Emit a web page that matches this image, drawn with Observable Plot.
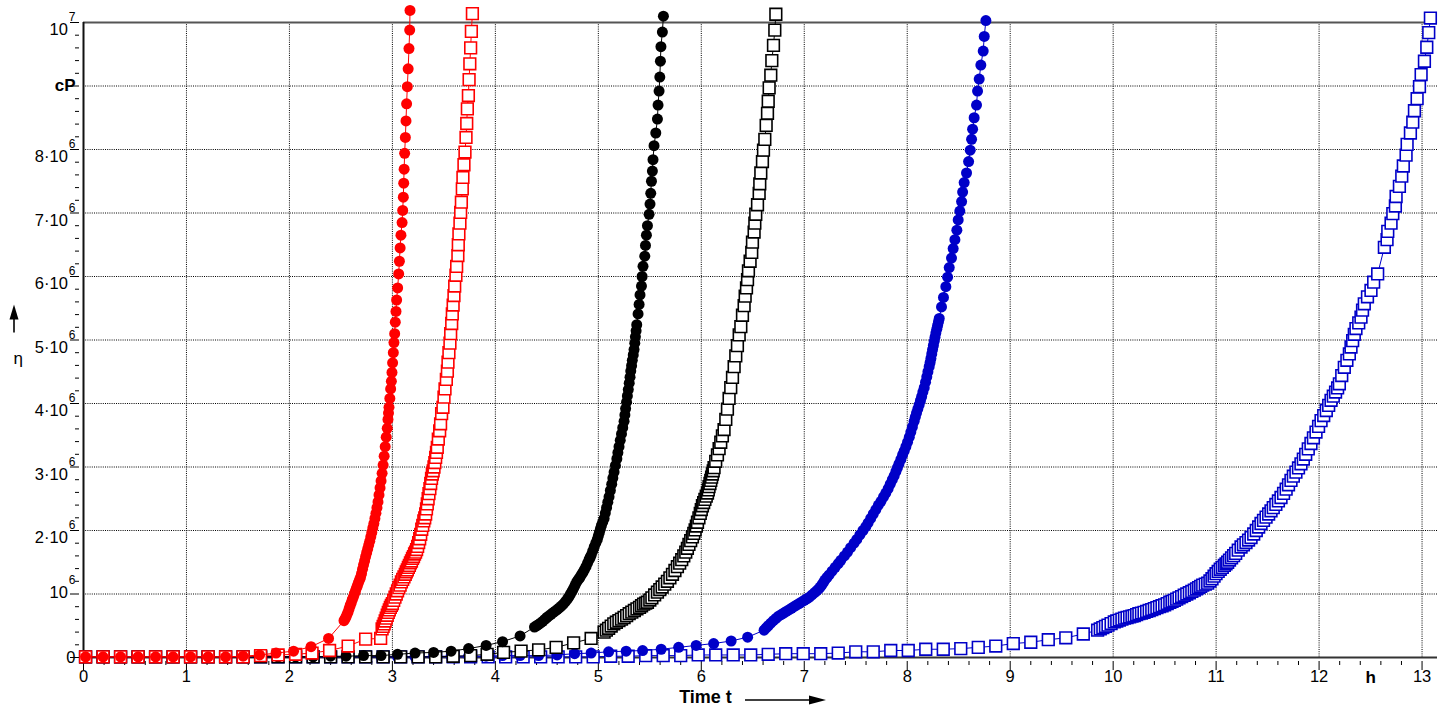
<!DOCTYPE html>
<html><head><meta charset="utf-8">
<script src="https://cdn.jsdelivr.net/npm/d3@7"></script>
<script src="https://cdn.jsdelivr.net/npm/@observablehq/plot@0.6"></script>
<style>
html,body{margin:0;padding:0;background:#fff;}
#chart{width:1447px;height:713px;}
</style></head><body><div id="chart"></div>
<script>
// [time t in h, viscosity η in units of 10^6 cP]
const redCircles = [
[0.02,0.01],[0.19,0.01],[0.36,0.01],[0.53,0.01],[0.70,0.01],[0.87,0.01],[1.04,0.01],[1.21,0.01],[1.38,0.01],[1.55,0.02],[1.71,0.04],[1.87,0.07],[2.04,0.10],[2.21,0.17],[2.38,0.30],
[2.53,0.58],[2.54,0.61],[2.55,0.64],[2.56,0.68],[2.57,0.72],[2.58,0.77],[2.59,0.82],[2.60,0.86],[2.61,0.91],[2.62,0.95],[2.63,1.00],[2.64,1.04],[2.65,1.09],[2.66,1.13],[2.67,1.18],[2.68,1.22],[2.69,1.26],[2.70,1.32],[2.71,1.39],[2.72,1.46],[2.73,1.52],[2.74,1.59],[2.75,1.65],[2.76,1.71],[2.77,1.77],[2.78,1.83],[2.79,1.90],[2.80,1.97],[2.81,2.04],[2.82,2.11],[2.83,2.19],[2.84,2.27],[2.85,2.36],[2.86,2.45],[2.87,2.56],[2.88,2.67],[2.89,2.78],[2.90,2.90],[2.91,3.03],[2.92,3.17],[2.93,3.32],[2.94,3.47],[2.95,3.61],
[2.957,3.75],[2.962,3.85],[2.967,3.94],[2.975,4.08],[2.983,4.23],[2.99,4.35],[2.996,4.49],[3.002,4.64],[3.009,4.80],[3.015,4.96],[3.022,5.10],[3.028,5.28],[3.035,5.45],[3.041,5.63],[3.051,5.82],[3.061,6.04],[3.068,6.24],[3.075,6.45],[3.083,6.65],[3.094,6.85],[3.100,7.04],[3.106,7.25],[3.110,7.47],[3.114,7.69],[3.119,7.94],[3.126,8.19],[3.132,8.45],[3.138,8.72],[3.145,8.99],[3.153,9.27],[3.161,9.59],[3.168,9.88],[3.171,10.19]
];
const redSquares = [
[0.02,0.01],[0.19,0.01],[0.36,0.01],[0.53,0.01],[0.70,0.01],[0.87,0.01],[1.04,0.01],[1.21,0.01],[1.38,0.01],[1.55,0.01],[1.72,0.03],[1.89,0.04],[2.06,0.05],[2.22,0.07],[2.39,0.11],[2.57,0.18],[2.74,0.29],[2.886,0.30],
[2.90,0.45],[2.91,0.49],[2.92,0.53],[2.93,0.575],[2.94,0.62],[2.95,0.665],[2.96,0.71],[2.97,0.75],[2.98,0.79],[2.99,0.82],[3.00,0.85],[3.0125,0.90],[3.025,0.95],[3.0375,1.00],[3.05,1.05],[3.0625,1.10],[3.075,1.14],[3.0875,1.19],[3.10,1.23],[3.1125,1.27],[3.125,1.31],[3.135,1.35],[3.145,1.38],[3.155,1.42],[3.165,1.45],[3.175,1.49],[3.185,1.52],[3.195,1.56],[3.205,1.59],[3.215,1.63],[3.225,1.66],[3.235,1.70],[3.245,1.75],[3.255,1.81],[3.265,1.87],[3.275,1.94],[3.285,2.02],[3.295,2.08],[3.305,2.15],[3.314,2.20],[3.323,2.26],[3.331,2.34],[3.339,2.42],[3.347,2.50],[3.355,2.58],[3.364,2.66],[3.372,2.74],[3.38,2.82],[3.388,2.89],[3.396,2.94],[3.404,3.00],[3.412,3.07],[3.42,3.15],[3.428,3.23],[3.436,3.31],
[3.446,3.44],[3.459,3.57],[3.468,3.68],[3.478,3.84],[3.491,3.94],[3.501,4.10],[3.511,4.23],[3.524,4.38],[3.534,4.51],[3.540,4.65],[3.549,4.80],[3.559,4.95],[3.566,5.10],[3.576,5.26],[3.582,5.41],[3.590,5.55],[3.598,5.70],[3.605,5.85],[3.617,6.02],[3.624,6.16],[3.636,6.33],[3.640,6.50],[3.646,6.67],[3.656,6.84],[3.663,7.01],[3.670,7.17],[3.679,7.38],[3.685,7.56],[3.695,7.76],[3.705,7.96],[3.715,8.19],[3.722,8.41],[3.728,8.64],[3.738,8.85],[3.745,9.10],[3.752,9.35],[3.760,9.60],[3.767,9.86],[3.777,10.14]
];
const blackCircles = [
[0.02,0.01],[0.19,0.01],[0.36,0.01],[0.53,0.01],[0.70,0.01],[0.87,0.01],[1.04,0.01],[1.21,0.01],[1.38,0.01],[1.55,0.01],[1.72,0.01],[1.89,0.01],[2.06,0.01],[2.23,0.01],[2.40,0.02],[2.55,0.02],[2.72,0.03],[2.89,0.03],[3.05,0.05],[3.22,0.07],[3.40,0.08],[3.57,0.10],[3.74,0.14],[3.91,0.19],[4.07,0.25],[4.24,0.34],
[4.38,0.48],[4.40,0.50],[4.42,0.52],[4.44,0.545],[4.46,0.57],[4.48,0.60],[4.50,0.63],[4.52,0.655],[4.54,0.68],[4.56,0.705],[4.58,0.73],[4.60,0.755],[4.62,0.78],[4.64,0.81],[4.66,0.84],[4.68,0.88],[4.70,0.92],[4.715,0.96],[4.73,1.00],[4.745,1.045],[4.76,1.09],[4.775,1.14],[4.79,1.19],[4.805,1.225],[4.82,1.26],[4.835,1.30],[4.85,1.34],[4.865,1.385],[4.88,1.43],[4.895,1.485],[4.91,1.54],[4.92,1.575],[4.93,1.61],[4.945,1.675],[4.96,1.74],[4.975,1.80],[4.99,1.86],[5.00,1.915],[5.01,1.97],[5.02,2.025],[5.03,2.08],[5.043,2.135],[5.056,2.19],[5.068,2.275],[5.08,2.36],[5.092,2.445],[5.104,2.53],[5.117,2.63],[5.13,2.73],[5.141,2.825],[5.153,2.92],[5.166,3.025],[5.18,3.13],[5.19,3.225],[5.201,3.32],[5.213,3.42],[5.225,3.52],[5.237,3.62],[5.25,3.72],[5.258,3.82],[5.265,3.92],[5.274,4.02],[5.282,4.12],[5.291,4.22],[5.30,4.32],[5.308,4.415],[5.315,4.51],[5.323,4.595],[5.33,4.68],[5.339,4.765],[5.347,4.85],[5.354,4.95],[5.36,5.05],[5.367,5.145],[5.373,5.24],
[5.386,5.41],[5.396,5.56],[5.405,5.71],[5.419,5.85],[5.425,6.00],[5.434,6.16],[5.451,6.32],[5.458,6.49],[5.467,6.65],[5.477,6.80],[5.493,6.98],[5.502,7.14],[5.509,7.31],[5.516,7.50],[5.525,7.66],[5.531,7.84],[5.541,8.06],[5.558,8.26],[5.574,8.48],[5.580,8.70],[5.590,8.92],[5.597,9.14],[5.603,9.39],[5.608,9.62],[5.622,9.85],[5.632,10.10]
];
const blackSquares = [
[0.02,0.01],[0.19,0.01],[0.36,0.01],[0.53,0.01],[0.70,0.01],[0.87,0.01],[1.04,0.01],[1.21,0.01],[1.38,0.01],[1.55,0.01],[1.72,0.01],[1.89,0.01],[2.06,0.01],[2.23,0.01],[2.40,0.01],[2.57,0.01],[2.74,0.01],[2.91,0.01],[3.08,0.01],[3.25,0.01],[3.42,0.01],[3.59,0.02],[3.76,0.03],[3.92,0.05],[4.08,0.08],[4.25,0.10],[4.42,0.12],[4.59,0.16],[4.76,0.23],[4.93,0.30],
[5.056,0.40],[5.078,0.43],[5.10,0.46],[5.125,0.495],[5.15,0.53],[5.175,0.555],[5.20,0.58],[5.225,0.605],[5.25,0.63],[5.275,0.66],[5.30,0.69],[5.325,0.715],[5.35,0.74],[5.375,0.765],[5.40,0.79],[5.42,0.815],[5.44,0.84],[5.46,0.855],[5.477,0.87],[5.50,0.905],[5.52,0.94],[5.547,0.985],[5.574,1.03],[5.597,1.07],[5.62,1.11],[5.645,1.155],[5.671,1.20],[5.695,1.255],[5.72,1.31],[5.744,1.37],[5.768,1.43],[5.79,1.485],[5.81,1.54],[5.83,1.60],[5.849,1.66],[5.865,1.72],[5.88,1.78],[5.897,1.84],[5.914,1.90],[5.927,1.955],[5.94,2.01],[5.952,2.07],[5.963,2.13],[5.977,2.20],[5.99,2.27],[6.00,2.33],[6.011,2.39],[6.023,2.44],[6.035,2.49],[6.048,2.54],[6.06,2.59],[6.068,2.64],[6.075,2.69],[6.084,2.74],[6.092,2.79],[6.10,2.84],[6.108,2.89],[6.116,2.94],[6.124,2.99],
[6.14,3.09],[6.157,3.19],[6.173,3.29],[6.189,3.39],[6.205,3.49],[6.221,3.59],[6.238,3.75],[6.254,3.91],[6.27,4.08],[6.286,4.25],[6.303,4.41],[6.319,4.58],[6.335,4.75],[6.351,4.91],[6.368,5.08],[6.384,5.21],[6.40,5.39],[6.416,5.54],[6.426,5.69],[6.439,5.82],[6.449,5.95],[6.458,6.09],[6.474,6.24],[6.49,6.38],[6.497,6.54],[6.513,6.70],[6.52,6.84],[6.529,6.98],[6.546,7.13],[6.562,7.31],[6.568,7.46],[6.578,7.63],[6.594,7.81],[6.604,7.99],[6.617,8.16],[6.63,8.38],[6.643,8.57],[6.650,8.76],[6.659,8.97],[6.675,9.17],[6.685,9.40],[6.701,9.64],[6.714,9.88],[6.724,10.13]
];
const blueCircles = [
[0.02,0.01],[0.19,0.01],[0.36,0.01],[0.53,0.01],[0.70,0.01],[0.87,0.01],[1.04,0.01],[1.21,0.01],[1.38,0.01],[1.55,0.01],[1.72,0.01],[1.89,0.01],[2.06,0.01],[2.23,0.01],[2.40,0.01],[2.57,0.01],[2.74,0.01],[2.89,0.01],[3.05,0.01],[3.22,0.01],[3.40,0.02],[3.57,0.02],[3.74,0.02],[3.91,0.02],[4.07,0.03],[4.24,0.03],[4.42,0.03],[4.60,0.04],[4.77,0.06],[4.93,0.07],[5.10,0.09],[5.27,0.10],[5.43,0.11],[5.61,0.13],[5.78,0.16],[5.95,0.19],[6.12,0.22],[6.29,0.26],[6.45,0.32],
[6.61,0.43],[6.63,0.465],[6.65,0.50],[6.675,0.54],[6.70,0.58],[6.725,0.615],[6.75,0.65],[6.775,0.675],[6.80,0.70],[6.825,0.725],[6.85,0.75],[6.875,0.775],[6.90,0.80],[6.925,0.825],[6.95,0.85],[6.975,0.875],[7.00,0.90],[7.025,0.925],[7.05,0.95],[7.075,0.985],[7.10,1.02],[7.12,1.05],[7.14,1.08],[7.155,1.11],[7.17,1.14],[7.185,1.18],[7.20,1.22],[7.22,1.26],[7.241,1.30],[7.27,1.36],[7.30,1.42],[7.33,1.48],[7.355,1.53],[7.39,1.60],[7.42,1.66],[7.45,1.73],[7.484,1.80],[7.51,1.86],[7.54,1.93],[7.57,2.00],[7.598,2.06],[7.62,2.12],[7.645,2.19],[7.67,2.26],[7.695,2.33],[7.72,2.40],[7.745,2.46],[7.77,2.53],[7.792,2.59],[7.815,2.66],[7.835,2.73],[7.855,2.80],[7.873,2.86],[7.89,2.93],[7.905,2.99],[7.92,3.05],[7.938,3.12],[7.955,3.19],[7.97,3.25],[7.987,3.32],[8.003,3.39],[8.02,3.47],[8.035,3.55],[8.05,3.63],[8.067,3.72],[8.078,3.785],[8.09,3.85],[8.103,3.915],[8.116,3.98],[8.128,4.045],[8.14,4.11],[8.152,4.18],[8.165,4.25],[8.178,4.335],[8.19,4.42],[8.201,4.50],[8.213,4.58],[8.222,4.645],[8.23,4.71],[8.238,4.78],[8.246,4.85],[8.254,4.915],[8.262,4.98],[8.27,5.045],[8.278,5.11],[8.287,5.17],[8.295,5.23],[8.303,5.285],[8.311,5.34],
[8.333,5.52],[8.352,5.67],[8.375,5.84],[8.392,5.99],[8.408,6.14],[8.43,6.29],[8.446,6.44],[8.463,6.58],[8.482,6.73],[8.495,6.89],[8.511,7.03],[8.528,7.18],[8.538,7.33],[8.553,7.48],[8.576,7.63],[8.596,7.81],[8.612,7.99],[8.625,8.16],[8.635,8.32],[8.65,8.50],[8.673,8.70],[8.683,8.92],[8.699,9.11],[8.715,9.33],[8.738,9.55],[8.748,9.78],[8.764,10.03]
];
const blueSquares = [
[0.02,0.01],[0.19,0.01],[0.36,0.01],[0.53,0.01],[0.70,0.01],[0.87,0.01],[1.04,0.01],[1.21,0.01],[1.38,0.01],[1.55,0.01],[1.72,0.01],[1.89,0.01],[2.06,0.01],[2.23,0.01],[2.40,0.01],[2.57,0.01],[2.74,0.01],[2.91,0.01],[3.08,0.01],[3.25,0.01],[3.42,0.01],[3.59,0.01],[3.76,0.01],[3.93,0.01],[4.10,0.01],[4.27,0.01],[4.44,0.01],[4.61,0.01],[4.78,0.01],[4.95,0.01],
[5.12,0.02],[5.29,0.02],[5.46,0.03],[5.63,0.03],[5.80,0.03],[5.97,0.04],[6.14,0.04],[6.31,0.04],[6.48,0.04],[6.65,0.05],[6.82,0.06],[6.99,0.06],[7.16,0.06],[7.33,0.07],[7.50,0.09],[7.67,0.09],[7.84,0.11],[8.01,0.11],[8.18,0.13],[8.35,0.13],[8.52,0.14],[8.69,0.16],[8.86,0.18],[9.03,0.22],[9.20,0.24],[9.37,0.28],[9.54,0.31],[9.71,0.37],
[9.849,0.43],[9.875,0.45],[9.90,0.47],[9.925,0.49],[9.95,0.51],[9.98,0.535],[10.011,0.56],[10.035,0.575],[10.06,0.59],[10.085,0.605],[10.11,0.62],[10.135,0.63],[10.16,0.64],[10.183,0.65],[10.205,0.66],[10.228,0.675],[10.25,0.69],[10.275,0.70],[10.30,0.71],[10.325,0.725],[10.35,0.74],[10.375,0.755],[10.40,0.77],[10.425,0.785],[10.45,0.80],[10.475,0.815],[10.50,0.83],[10.525,0.85],[10.55,0.87],[10.572,0.885],[10.594,0.90],[10.617,0.92],[10.64,0.94],[10.665,0.96],[10.69,0.98],[10.715,1.00],[10.74,1.02],[10.764,1.04],[10.788,1.06],[10.81,1.08],[10.83,1.10],[10.85,1.12],[10.87,1.14],[10.895,1.155],[10.918,1.17],[10.94,1.205],[10.96,1.24],[10.98,1.28],[10.999,1.32],[11.02,1.355],[11.04,1.39],[11.06,1.42],[11.08,1.45],[11.096,1.475],[11.112,1.50],[11.13,1.535],[11.15,1.57],[11.17,1.605],[11.19,1.64],[11.215,1.69],[11.242,1.74],[11.265,1.775],[11.29,1.81],[11.315,1.85],[11.339,1.89],[11.365,1.945],[11.39,2.00],[11.413,2.055],[11.436,2.11],[11.46,2.16],[11.485,2.21],[11.51,2.26],[11.533,2.31],[11.555,2.36],[11.58,2.41],[11.605,2.465],[11.63,2.52],[11.655,2.585],[11.68,2.65],[11.703,2.72],[11.727,2.79],[11.75,2.855],[11.775,2.92],[11.80,2.985],[11.824,3.05],[11.847,3.125],[11.87,3.20],[11.895,3.285],[11.921,3.37],[11.945,3.46],[11.97,3.55],[11.995,3.64],[12.019,3.73],[12.045,3.81],[12.07,3.89],[12.093,3.97],[12.116,4.05],[12.138,4.115],[12.16,4.18],[12.18,4.245],[12.197,4.31],
[12.22,4.44],[12.245,4.57],[12.27,4.68],[12.294,4.78],[12.31,4.89],[12.326,4.99],[12.342,5.09],[12.358,5.18],[12.385,5.27],[12.407,5.36],[12.422,5.47],[12.439,5.57],[12.47,5.68],[12.504,5.78],[12.53,5.91],[12.569,6.04],
[12.634,6.46],[12.66,6.58],[12.667,6.71],[12.699,6.84],[12.716,6.99],[12.741,7.11],[12.748,7.26],[12.78,7.42],[12.803,7.58],[12.818,7.74],[12.845,7.91],[12.855,8.08],[12.887,8.26],[12.91,8.43],[12.926,8.61],[12.952,8.80],[12.975,8.99],[12.991,9.18],[13.023,9.39],[13.046,9.61],[13.065,9.84],[13.081,10.07]
];

const xTicks = [0,1,2,3,4,5,6,7,8,9,10,11,12,13];
const xTickLabels = ["0","1","2","3","4","5","6","7","8","9","10","11","12","13"];
const xUnitPos = 12.5, xUnitLabel = "h";
const yTicks = [0,1,2,3,4,5,6,7,8,9,10];
const yTickLabels = ["0","10^6","2·10^6","3·10^6","4·10^6","5·10^6","6·10^6","7·10^6","8·10^6","cP","10^7"];
const xTitle = "Time t", yTitle = "η";

const RED = "#ff0000", BLACK = "#000000", BLUE = "#0000c8";
const series = [
  {data: blueSquares, color: BLUE, symbol: "square"},
  {data: blueCircles, color: BLUE, symbol: "circle"},
  {data: blackSquares, color: BLACK, symbol: "square"},
  {data: blackCircles, color: BLACK, symbol: "circle"},
  {data: redSquares, color: RED, symbol: "square"},
  {data: redCircles, color: RED, symbol: "circle"}
];

const xMinor = d3.range(0.2, 13.15, 0.2).filter(d => Math.abs(d - Math.round(d)) > 0.01);
const yMinor = d3.range(0.2, 10, 0.2).filter(d => Math.abs(d - Math.round(d)) > 0.01);
const xLabelTicks = xTicks.concat([xUnitPos]);

const dataMarks = [];
for (const s of series) {
  dataMarks.push(Plot.line(s.data, {x: d => d[0], y: d => d[1], stroke: s.color, strokeWidth: 1}));
  if (s.symbol === "circle") {
    dataMarks.push(Plot.dot(s.data, {x: d => d[0], y: d => d[1], symbol: "circle", r: 5.5, fill: s.color, stroke: "none"}));
  } else {
    dataMarks.push(Plot.dot(s.data, {x: d => d[0], y: d => d[1], symbol: "square", r: 6.6, fill: "white", stroke: s.color, strokeWidth: 1.6}));
  }
}

const svg = Plot.plot({
  width: 1447, height: 713,
  marginLeft: 83, marginRight: 10, marginTop: 22, marginBottom: 56,
  style: {fontFamily: "'Liberation Sans', Arial, sans-serif", fontSize: "16px", color: "#000", background: "#fff"},
  x: {domain: [0, 13.15]},
  y: {domain: [0, 10]},
  marks: [
    Plot.ruleX(xTicks.filter(d => d > 0), {stroke: "#000", strokeWidth: 1, strokeDasharray: "1,1.2"}),
    Plot.ruleY(yTicks.filter(d => d > 0 && d < 10), {stroke: "#000", strokeWidth: 1, strokeDasharray: "1,1.2"}),
    Plot.ruleY([10], {stroke: "#555", strokeWidth: 2}),
    Plot.ruleX([0], {stroke: "#111", strokeWidth: 2}),
    Plot.ruleY([0], {stroke: "#333", strokeWidth: 2}),
    Plot.axisX(xMinor, {tickSize: 4, inset: -4, tickFormat: () => "", label: null}),
    Plot.axisX(xTicks, {tickSize: 9, inset: -4, tickFormat: () => "", label: null}),
    Plot.axisX(xLabelTicks, {tickSize: 0, tickPadding: 13, label: null,
      tickFormat: d => d === xUnitPos ? xUnitLabel : xTickLabels[xTicks.indexOf(d)]}),
    Plot.axisY(yMinor, {tickSize: 4, inset: -4, tickFormat: () => "", label: null}),
    Plot.axisY(yTicks, {tickSize: 9, inset: -4, tickFormat: () => "", label: null}),
    Plot.axisY(yTicks, {tickSize: 0, tickPadding: 8, label: null,
      tickFormat: d => yTickLabels[yTicks.indexOf(d)]}),
    Plot.text([xTitle], {frameAnchor: "bottom", dx: -55, dy: 45, fontWeight: "bold", fontSize: 18}),
    Plot.text([yTitle], {frameAnchor: "left", dx: -70, dy: 19, fontSize: 17}),
    ...dataMarks
  ]
});
document.getElementById("chart").append(svg);

// font sizes, superscripts and bold unit labels
const root = d3.select(svg);
root.selectAll('g[aria-label="x-axis tick label"] text, g[aria-label="y-axis tick label"] text')
  .style("font-size", "16.5px").style("font-family", "'Liberation Sans', Arial, sans-serif");
root.selectAll('g[aria-label="y-axis tick label"] text').each(function() {
  const t = this.textContent;
  const el = d3.select(this);
  if (t === "cP") el.style("font-weight", "bold").style("font-size", "17px");
  const parts = t.split("^");
  if (parts.length === 2) {
    el.text(null);
    el.append("tspan").text(parts[0]);
    el.append("tspan").attr("dy", -14).attr("dx", 1).style("font-size", "12px").text(parts[1]);
    el.attr("y", t === yTickLabels[1] ? 4 : 12.5);
  }
});
root.selectAll('g[aria-label="x-axis tick label"] text').each(function() {
  if (this.textContent === xUnitLabel) d3.select(this).style("font-weight", "bold").style("font-size", "17px");
});

// axis arrows (decoration, placed relative to the frame)
const xr = svg.scale("x").range, yr = svg.scale("y").range;
const cx = (xr[0] + xr[1]) / 2, by = yr[0];
const deco = root.append("g").attr("fill", "#000").attr("stroke", "#000");
deco.append("line").attr("x1", cx - 15).attr("x2", cx + 52).attr("y1", by + 43).attr("y2", by + 43).attr("stroke-width", 1.3);
deco.append("path").attr("stroke", "none").attr("d", `M${cx + 49},${by + 38.5} L${cx + 66},${by + 43} L${cx + 49},${by + 47.5} Z`);
const ax = xr[0] - 69, my = (yr[0] + yr[1]) / 2;
deco.append("line").attr("x1", ax).attr("x2", ax).attr("y1", my - 7).attr("y2", my - 22).attr("stroke-width", 1.6);
deco.append("path").attr("stroke", "none").attr("d", `M${ax - 4.5},${my - 20} L${ax},${my - 35} L${ax + 4.5},${my - 20} Z`);
</script></body></html>
